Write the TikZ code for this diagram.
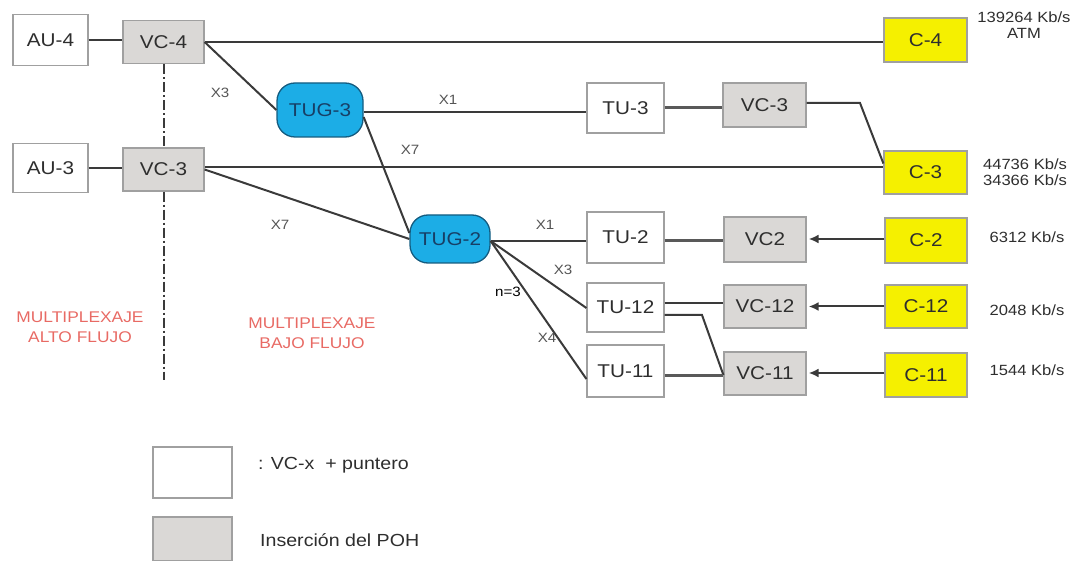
\documentclass[tikz,border=0pt]{standalone}
\usepackage{fontspec}
\setmainfont{Liberation Sans}[FakeStretch=1.12]
\usetikzlibrary{arrows.meta,calc}
\definecolor{linec}{HTML}{3A3A3A}
\definecolor{boxb}{HTML}{A0A0A0}
\definecolor{vcfill}{HTML}{DAD8D6}
\definecolor{yel}{HTML}{F5F000}
\definecolor{tugfill}{HTML}{1CADE6}
\definecolor{tugb}{HTML}{145C80}
\definecolor{tugtxt}{HTML}{173F66}
\definecolor{redtxt}{HTML}{E86A64}
\definecolor{txt}{HTML}{2E2E2E}
\definecolor{lbltxt}{HTML}{555555}
\tikzset{
  base/.style={rectangle, inner sep=0pt, text=txt, font=\fontsize{18.5}{20}\selectfont},
  wbox/.style={base, draw=boxb, line width=1.2pt, fill=white},
  vcbox/.style={base, draw=boxb, line width=1.2pt, fill=vcfill},
  cbox/.style={base, draw=boxb, line width=1.2pt, fill=yel},
  tug/.style={base, draw=tugb, line width=1.3pt, fill=tugfill, rounded corners=18pt, text=tugtxt},
  conn/.style={draw=linec, line width=2pt},
  thick conn/.style={draw=gray!70!black, line width=3pt},
  arr/.style={draw=linec, line width=2pt, -{Latex[length=10pt,width=9pt]}, shorten >=2pt},
  lbl/.style={text=lbltxt, font=\fontsize{13.5}{15}\selectfont, inner sep=0pt},
  rate/.style={text=txt, font=\fontsize{14.8}{16.5}\selectfont, inner sep=0pt, align=center},
  redl/.style={text=redtxt, font=\fontsize{15.5}{20.5}\selectfont, inner sep=0pt, align=center},
  legt/.style={text=txt, font=\fontsize{17.5}{19}\selectfont, inner sep=0pt, anchor=west},
  sep/.style={draw=linec, line width=2pt, dash pattern=on 10pt off 3pt on 2pt off 3pt},
}
\begin{document}
\begin{tikzpicture}[x=1pt,y=-1pt]
\useasboundingbox (0,0) rectangle (1079,561);

% left column
\node[wbox, minimum width=75pt, minimum height=51pt] (AU4) at (50.5,40) {AU-4};
\node[vcbox, minimum width=81pt, minimum height=43pt] (VC4) at (163.5,42) {VC-4};
\node[wbox, minimum width=75pt, minimum height=49pt] (AU3) at (50.5,168) {AU-3};
\node[vcbox, minimum width=81pt, minimum height=43pt] (VC3L) at (163.5,169.5) {VC-3};

% TUGs
\node[tug, minimum width=86pt, minimum height=54pt] (TUG3) at (320,110) {TUG-3};
\node[tug, minimum width=80pt, minimum height=48pt] (TUG2) at (450,239) {TUG-2};

% TU column
\node[wbox, minimum width=77pt, minimum height=50pt] (TU3) at (625.5,108) {TU-3};
\node[wbox, minimum width=77pt, minimum height=51pt] (TU2) at (625.5,237.5) {TU-2};
\node[wbox, minimum width=77pt, minimum height=49pt] (TU12) at (625.5,307.5) {TU-12};
\node[wbox, minimum width=77pt, minimum height=52pt] (TU11) at (625.5,371) {TU-11};

% VC column
\node[vcbox, minimum width=83pt, minimum height=44pt] (VC3R) at (764.5,105) {VC-3};
\node[vcbox, minimum width=82pt, minimum height=45pt] (VC2) at (765,239.5) {VC2};
\node[vcbox, minimum width=82pt, minimum height=43pt] (VC12) at (765,306.5) {VC-12};
\node[vcbox, minimum width=82pt, minimum height=43pt] (VC11) at (765,373.5) {VC-11};

% C column
\node[cbox, minimum width=83pt, minimum height=44pt] (C4) at (925.5,40) {C-4};
\node[cbox, minimum width=83pt, minimum height=43pt] (C3) at (925.5,172.5) {C-3};
\node[cbox, minimum width=82pt, minimum height=45pt] (C2) at (926,240.5) {C-2};
\node[cbox, minimum width=82pt, minimum height=43pt] (C12) at (926,306.5) {C-12};
\node[cbox, minimum width=82pt, minimum height=44pt] (C11) at (926,375) {C-11};

% dash-dot separator
\coordinate (sepEnd) at (163.5,380);
\draw[sep] (VC4.south) -- (VC3L.north);
\draw[sep] (VC3L.south) -- (sepEnd);

% connectors top
\draw[conn] (AU4.east) -- (AU4.east -| VC4.west);
\draw[conn] (VC4.east) -- (VC4.east -| C4.west);
\draw[conn] (VC4.east) -- (TUG3.west);
\draw[conn] ([yshift=-2pt]TUG3.east) -- ([yshift=-2pt]TUG3.east -| TU3.west);
\draw[thick conn] (TU3.east) -- (TU3.east -| VC3R.west);
\coordinate (bend3) at (860,103);
\draw[conn] (VC3R.east |- bend3) -- (bend3) -- ([yshift=9pt]C3.west);
\draw[conn] (AU3.east) -- (AU3.east -| VC3L.west);
\draw[conn] ([yshift=2pt]VC3L.east) -- ([yshift=2pt]VC3L.east -| C3.west);
\draw[conn] (VC3L.east) -- (TUG2.west);
\draw[conn] ([yshift=-7pt]TUG3.east) -- ([yshift=6pt]TUG2.west);

% TUG-2 fan-out
\draw[conn] ([yshift=-2pt]TUG2.east) -- ([yshift=-2pt]TUG2.east -| TU2.west);
\draw[conn] ([yshift=-2pt]TUG2.east) -- ([yshift=-0.5pt]TU12.west);
\draw[conn] ([yshift=-2pt]TUG2.east) -- ([yshift=-8pt]TU11.west);

% TU -> VC
\draw[thick conn] ([yshift=-3.5pt]TU2.east) -- ([yshift=-3.5pt]TU2.east -| VC2.west);
\draw[conn] ([yshift=4pt]TU12.east) -- ([yshift=4pt]TU12.east -| VC12.west);
\coordinate (bend12) at (702,315);
\draw[conn] (TU12.east |- bend12) -- (bend12) -- ([yshift=-1.5pt]VC11.west);
\draw[thick conn] ([yshift=-4pt]TU11.east) -- ([yshift=-4pt]TU11.east -| VC11.west);

% C -> VC arrows
\draw[arr] ([yshift=1.5pt]C2.west) -- ([yshift=1.5pt]C2.west -| VC2.east);
\draw[arr] (C12.west) -- (C12.west -| VC12.east);
\draw[arr] ([yshift=2pt]C11.west) -- ([yshift=2pt]C11.west -| VC11.east);

% multiplicity labels
\node[lbl] (lx3a) at (220,93) {X3};
\node[lbl] (lx1a) at (448,100) {X1};
\node[lbl] (lx7a) at (410,150) {X7};
\node[lbl] (lx7b) at (280,225) {X7};
\node[lbl] (lx1b) at (545,225) {X1};
\node[lbl] (lx3b) at (563,270) {X3};
\node[lbl, text=black] (ln3) at (508,292) {n=3};
\node[lbl] (lx4) at (547,338) {X4};

% rates
\node[rate] (r4) at (1024,25) {139264 Kb/s\\ATM};
\node[rate] (r3) at (1025,172) {44736 Kb/s\\34366 Kb/s};
\node[rate] (r2) at (1027,237) {6312 Kb/s};
\node[rate] (r12) at (1027,310) {2048 Kb/s};
\node[rate] (r11) at (1027,370) {1544 Kb/s};

% region labels
\node[redl] (alto) at (80,327) {MULTIPLEXAJE\\ALTO FLUJO};
\node[redl] (bajo) at (312,333) {MULTIPLEXAJE\\BAJO FLUJO};

% legend
\node[wbox, minimum width=79pt, minimum height=51pt] (leg1) at (192.5,472.5) {};
\node[vcbox, minimum width=79pt, minimum height=44pt] (leg2) at (192.5,539) {};
\node[legt] (leg1t) at (258,465) {: VC-x\ \ + puntero};
\node[legt] (leg2t) at (260,540) {Inserción del POH};
\end{tikzpicture}
\end{document}
